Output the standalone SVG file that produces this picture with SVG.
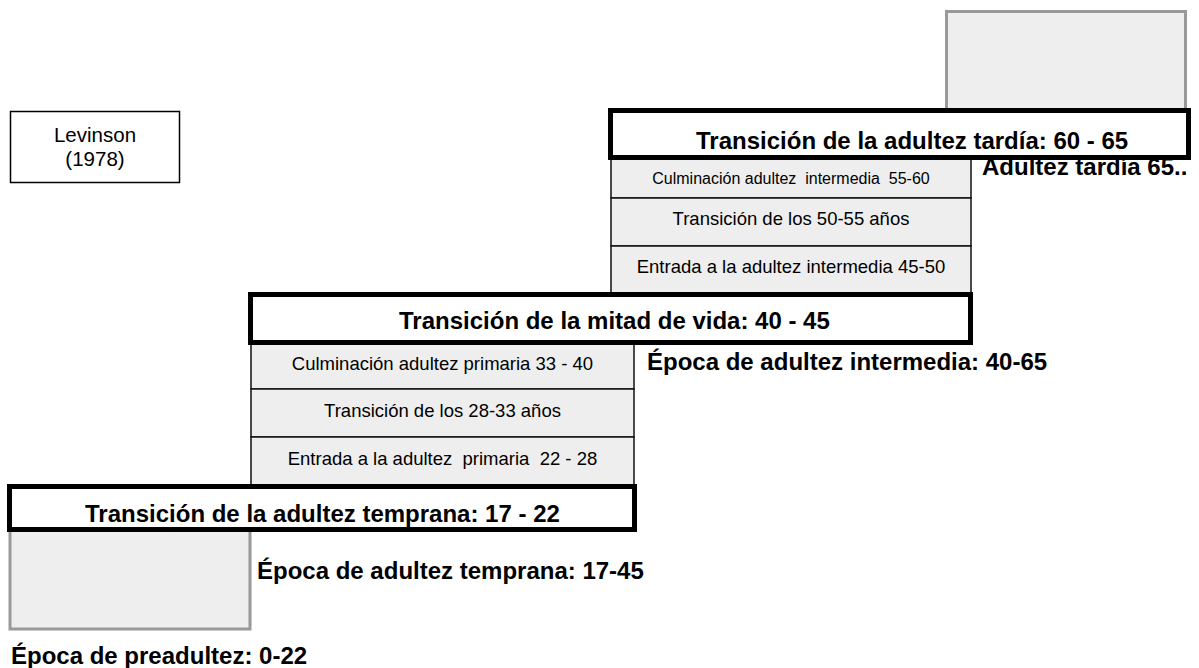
<svg xmlns="http://www.w3.org/2000/svg" width="1199" height="668" viewBox="0 0 1199 668">
<style>
text{font-family:"Liberation Sans",Arial,sans-serif;fill:#000}
.gray{fill:#eeeeee;stroke:#999999;stroke-width:3}
.sub{fill:#eeeeee;stroke:#111;stroke-width:1.5}
.st{font-size:18.5px;text-anchor:middle;white-space:pre}
.title{font-size:24px;font-weight:bold}
.lbl{font-size:24px;font-weight:bold}
.tbox{fill:#fff;stroke:none}
.tborder{fill:none;stroke:#000;stroke-width:5}
</style>
<rect width="1199" height="668" fill="#fff"/>
<g id="levinson">
<rect x="10.5" y="111.5" width="169" height="71" fill="#fff" stroke="#000" stroke-width="1.5"/>
<text x="95" y="141.5" style="font-size:20.5px" text-anchor="middle">Levinson</text>
<text x="95" y="165.5" style="font-size:20.5px" text-anchor="middle">(1978)</text>
</g>
<g id="preadultez">
<rect class="gray" x="10" y="520" width="240" height="109"/>
<text class="lbl" x="11" y="664">Época de preadultez: 0-22</text>
</g>
<g id="adultez-tardia">
<rect class="gray" x="946.5" y="11.5" width="239" height="105"/>
<text class="lbl" x="982" y="175">Adultez tardía 65..</text>
</g>
<g id="etapas-temprana">
<rect class="sub" x="251" y="340" width="383" height="49"/>
<rect class="sub" x="251" y="389" width="383" height="48"/>
<rect class="sub" x="251" y="437" width="383" height="50"/>
<text class="st" x="442.5" y="370">Culminación adultez primaria 33 - 40</text>
<text class="st" x="442.5" y="417">Transición de los 28-33 años</text>
<text class="st" x="442.5" y="465">Entrada a la adultez  primaria  22 - 28</text>
</g>
<g id="etapas-intermedia">
<rect class="sub" x="611" y="155" width="360" height="43"/>
<rect class="sub" x="611" y="198" width="360" height="48"/>
<rect class="sub" x="611" y="246" width="360" height="50"/>
<text class="st" x="791" y="184" style="font-size:16px">Culminación adultez  intermedia  55-60</text>
<text class="st" x="791" y="225">Transición de los 50-55 años</text>
<text class="st" x="791" y="273">Entrada a la adultez intermedia 45-50</text>
</g>
<g id="epoca-temprana">
<text class="lbl" x="257" y="579">Época de adultez temprana: 17-45</text>
</g>
<g id="epoca-intermedia">
<text class="lbl" x="647" y="370">Época de adultez intermedia: 40-65</text>
</g>
<g id="transicion-temprana">
<rect class="tbox" x="9.5" y="486.5" width="625" height="43"/>
<text class="title" x="85" y="522">Transición de la adultez temprana: 17 - 22</text>
<rect class="tborder" x="9.5" y="486.5" width="625" height="43"/>
</g>
<g id="transicion-mitad">
<rect class="tbox" x="250.5" y="294.5" width="720" height="48"/>
<text class="title" x="399" y="329">Transición de la mitad de vida: 40 - 45</text>
<rect class="tborder" x="250.5" y="294.5" width="720" height="48"/>
</g>
<g id="transicion-tardia">
<rect class="tbox" x="610.5" y="110.5" width="578" height="47"/>
<text class="title" x="696" y="149">Transición de la adultez tardía: 60 - 65</text>
<rect class="tborder" x="610.5" y="110.5" width="578" height="47"/>
</g>
<g id="connectors"/>
</svg>
